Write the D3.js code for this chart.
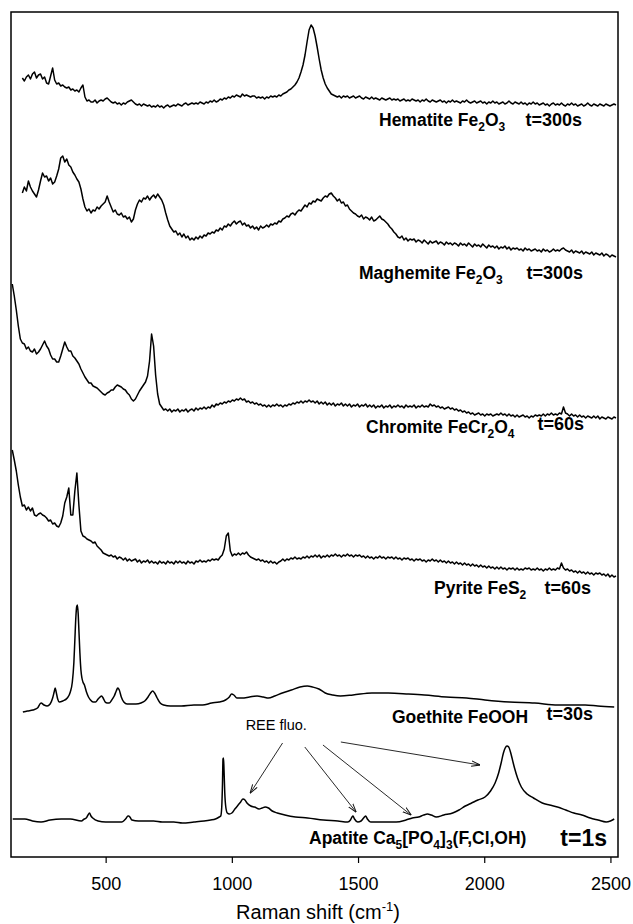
<!DOCTYPE html>
<html>
<head>
<meta charset="utf-8">
<script src="https://cdn.jsdelivr.net/npm/d3@7"></script>
<style>
  body { margin: 0; background: #fff; }
  text { font-family: "Liberation Sans", Arial, sans-serif; }
</style>
</head>
<body>
<svg id="chart" width="633" height="924"></svg>
<script>
// Raman shift axis (cm-1)
const xDomain = [125, 2530];
const tickValues = [500, 1000, 1500, 2000, 2500];

// Sampling grid of the long-exposure spectra: 130 to 2522 cm-1, every 8 cm-1 (300 channels)
const shiftGrid = d3.range(130, 2523, 8);

// Intensities (a.u., relative to each trace's own baseline) on shiftGrid; null = not recorded
const hematite = [
  null,null,null,null,null,27,24,28,30,26,
  31,33,27,30,31,26,28,22,21,29,
  37,25,21,22,19,20,18,17,18,15,
  16,14,15,13,17,20,8,4,5,3,
  3,5,2,4,5,4,6,7,5,3,
  2,3,1,2,0,2,1,3,4,5,
  3,1,0,1,-1,1,0,-1,0,-2,
  -1,-2,0,-2,-1,-3,-1,0,-2,-1,
  0,-1,1,0,-1,1,2,0,1,2,
  1,2,1,3,2,1,3,2,4,3,
  5,3,4,6,5,7,6,8,7,9,
  8,10,9,8,11,9,10,9,8,9,
  9,7,8,7,8,6,8,7,9,8,
  9,8,10,9,11,12,13,15,16,18,
  20,23,27,33,40,50,63,75,80,77,
  69,58,46,35,27,21,17,14,11,10,
  9,8,9,7,9,8,9,7,8,9,
  7,8,9,7,6,8,7,6,8,6,
  7,6,5,7,6,5,6,7,5,6,
  5,6,4,5,6,4,5,4,6,5,
  4,5,3,5,4,6,4,3,5,4,
  3,4,5,3,4,2,4,3,5,3,
  4,3,2,4,3,5,3,2,3,4,
  2,3,4,2,3,1,3,2,4,2,
  3,1,2,3,1,2,4,2,1,3,
  2,1,3,1,2,0,2,1,3,1,
  2,0,1,2,0,1,-1,1,2,0,
  1,0,2,0,-1,1,0,2,0,1,
  -1,0,1,-1,0,2,0,-1,1,0,
  -1,1,0,-1,1,0,-1,0,1,0];

const maghemite = [
  null,null,null,null,null,64,70,66,76,70,
  66,63,60,67,76,84,80,81,76,79,
  73,75,81,88,99,101,95,98,92,90,
  85,82,78,75,68,58,50,46,48,44,
  47,46,50,48,51,53,55,61,55,50,
  45,47,43,42,44,40,41,38,40,35,
  38,47,53,57,55,59,58,61,57,60,
  62,59,63,60,57,52,44,37,31,28,
  25,26,22,24,20,23,19,21,17,19,
  17,20,18,21,19,22,21,24,23,25,
  24,27,26,29,27,31,30,33,31,34,
  36,33,35,36,32,34,31,32,29,31,
  28,30,27,31,29,30,32,30,33,32,
  34,33,36,35,38,39,41,40,43,44,
  42,45,47,46,49,52,50,54,53,56,
  55,58,57,56,59,61,60,63,64,61,
  59,56,58,54,55,51,52,48,46,44,
  43,41,40,42,38,40,39,37,40,36,
  37,39,41,38,37,35,33,30,28,25,
  23,20,19,21,17,19,16,18,17,18,
  15,17,16,14,17,15,13,16,14,15,
  16,13,15,14,12,15,13,14,12,14,
  13,11,14,12,13,11,14,12,10,13,
  11,12,10,13,11,9,12,10,11,9,
  11,8,10,9,11,8,10,7,9,8,
  9,7,8,6,9,7,8,6,7,8,
  6,7,5,8,6,7,5,6,8,6,
  7,6,8,9,7,6,5,7,4,6,
  5,4,6,3,5,4,3,5,2,4,
  3,2,4,1,3,2,0,2,1,0];

const chromite = [
  134,122,108,92,79,75,74,69,71,67,
  66,69,64,66,69,73,77,72,69,63,
  59,59,56,56,62,69,76,71,67,67,
  62,60,57,54,49,45,41,38,35,35,
  32,31,30,28,26,24,23,25,26,28,
  28,31,33,32,31,29,28,25,23,19,
  17,19,23,27,30,33,36,42,57,84,
  72,43,24,14,11,8,9,7,9,6,
  8,7,9,6,8,7,9,6,8,9,
  7,10,8,10,9,11,9,11,10,13,
  11,14,13,15,14,16,15,17,16,18,
  17,19,18,20,18,19,16,17,15,16,
  14,15,13,14,12,13,11,13,11,13,
  12,14,12,13,11,13,12,14,13,15,
  14,16,15,17,15,17,16,18,16,17,
  15,17,14,16,14,16,13,15,13,15,
  12,14,13,15,12,14,12,14,11,13,
  12,14,11,13,12,14,11,13,11,13,
  10,12,11,13,10,12,11,13,10,12,
  11,13,11,12,10,13,11,12,11,13,
  10,12,11,13,11,12,11,14,12,13,
  11,12,10,11,9,10,11,9,10,8,
  9,7,8,6,7,5,6,4,5,3,
  4,5,3,4,2,4,3,4,2,3,
  4,3,5,3,4,2,4,2,3,1,
  3,1,2,3,1,2,0,2,1,3,
  2,3,2,4,2,4,3,5,3,4,
  3,5,4,11,5,4,2,4,2,3,
  1,3,1,2,0,2,1,0,2,0,
  2,-1,1,0,-1,1,0,-1,1,0];

const pyrite = [
  127,117,106,92,80,71,72,67,70,66,
  69,62,61,63,64,62,61,59,56,57,
  53,54,51,50,54,61,74,80,89,62,
  62,86,104,72,46,41,40,38,37,36,
  34,35,31,29,27,24,23,22,21,22,
  20,21,18,20,19,17,19,16,18,16,
  17,18,15,17,14,16,15,17,14,16,
  14,15,13,16,14,15,13,16,14,15,
  13,16,14,16,14,15,13,16,14,15,
  13,16,15,17,15,16,15,17,16,18,
  17,18,17,20,22,28,41,44,26,21,
  23,22,24,22,24,23,25,22,20,19,
  18,17,18,16,17,15,16,14,16,14,
  15,13,15,16,18,16,18,17,19,18,
  20,18,19,18,20,19,21,19,21,20,
  22,20,22,19,21,20,22,20,22,21,
  23,21,22,20,22,21,23,21,22,20,
  22,21,22,20,21,19,21,19,20,18,
  20,19,21,19,20,18,20,19,20,18,
  20,18,19,17,19,18,19,17,18,16,
  18,17,18,16,17,15,17,16,18,16,
  17,15,17,15,16,14,16,14,15,13,
  15,13,14,12,14,12,13,11,13,11,
  12,10,12,10,11,9,11,9,10,8,
  10,8,10,8,9,7,9,8,9,7,
  9,7,8,7,9,8,9,7,8,7,
  9,7,8,6,8,7,9,7,8,7,
  9,8,14,9,7,8,6,7,5,6,
  4,6,4,5,3,5,3,4,2,4,
  3,4,2,3,1,3,0,2,0,1];

// Short-exposure spectra: [Raman shift (cm-1), intensity (a.u., relative to baseline)]
const goethite = [[172,-5],[190,-4],[212,-3],[230,-1],[244,4],[256,2],[268,1],[280,3],[290,9],[296,15],[300,19],[304,15],[310,8],[316,5],[330,6],[348,9],[360,15],[368,25],[374,44],[378,67],[382,90],[385,100],[388,102],[391,94],[394,77],[398,54],[402,37],[406,29],[410,25],[416,22],[424,15],[432,10],[440,7],[450,5],[460,5],[470,8],[478,10],[484,11],[490,9],[498,5],[506,4],[514,4],[524,7],[534,11],[542,16],[548,19],[554,17],[562,10],[572,5],[585,3],[600,3],[620,3],[640,4],[655,6],[668,10],[678,14],[686,16],[694,14],[704,9],[716,4],[730,2],[756,1],[800,1],[850,2],[884,2],[920,4],[950,5],[975,7],[990,10],[999,13],[1008,12],[1020,9],[1040,9],[1070,10],[1100,11],[1125,10],[1145,9],[1170,11],[1200,14],[1236,17],[1270,20],[1299,21],[1320,20],[1345,18],[1370,14],[1400,12],[1430,11],[1480,12],[1555,14],[1620,14],[1700,13],[1763,12],[1850,10],[1930,9],[2003,7],[2100,5],[2200,4],[2291,2],[2360,2],[2400,2],[2450,1],[2515,0]];

const apatite = [[132,0],[160,0],[180,0],[210,-2],[244,-3],[280,-1],[324,0],[360,0],[404,-2],[415,0],[423,1],[430,4],[436,6],[442,3],[449,1],[470,-2],[500,-3],[540,-3],[564,-3],[575,-1],[582,1],[588,3],[591,3],[596,2],[604,-1],[630,-2],[660,-2],[690,-2],[724,-3],[770,-3],[804,-4],[850,-3],[890,-2],[916,-1],[935,0],[950,2],[956,3],[960,12],[963,36],[965,60],[967,61],[969,49],[972,26],[976,12],[982,6],[990,5],[1000,6],[1012,10],[1025,14],[1035,17],[1044,20],[1052,19],[1060,16],[1075,13],[1090,12],[1108,10],[1120,11],[1132,12],[1145,11],[1160,8],[1180,6],[1210,4],[1252,2],[1300,1],[1363,-1],[1420,-2],[1459,-3],[1470,-1],[1476,2],[1480,3],[1486,0],[1499,-3],[1512,-2],[1522,1],[1530,3],[1537,0],[1550,-3],[1600,-3],[1651,-3],[1690,-1],[1715,1],[1740,2],[1760,4],[1775,5],[1790,4],[1810,2],[1840,4],[1875,6],[1900,9],[1925,13],[1950,16],[1975,19],[2003,22],[2025,28],[2043,36],[2057,46],[2067,56],[2076,66],[2083,71],[2090,73],[2097,72],[2104,67],[2112,59],[2120,51],[2132,41],[2147,32],[2170,25],[2195,21],[2230,16],[2259,14],[2290,12],[2323,9],[2355,6],[2387,4],[2420,1],[2451,-1],[2483,-3],[2500,-2],[2515,0]];

// Trace order (top to bottom), vertical stacking offsets and captions
const gridded = [hematite, maghemite, chromite, pyrite].map(v => v.map((d, i) => [shiftGrid[i], d]));
const spectra = [...gridded, goethite, apatite];
const offsets = [752, 600, 439, 280, 150, 38];
const minerals = [
  ["Hematite Fe", "_2", "O", "_3"],
  ["Maghemite Fe", "_2", "O", "_3"],
  ["Chromite FeCr", "_2", "O", "_4"],
  ["Pyrite FeS", "_2"],
  ["Goethite FeOOH"],
  ["Apatite Ca", "_5", "[PO", "_4", "]", "_3", "(F,Cl,OH)"]
];
const exposures = ["t=300s", "t=300s", "t=60s", "t=60s", "t=30s", "t=1s"];

// Rare-earth fluorescence bands on the apatite trace: [from cm-1, from a.u., to cm-1, to a.u.]
const reeText = "REE fluo.";
const reeArrows = [[1201, 76, 1073, 26], [1289, 72, 1492, 7], [1361, 74, 1710, 4], [1432, 77, 1983, 54]];

const axisTitle = "Raman shift (cm";

// ---- layout ----
const svg = d3.select("#chart");
const plot = { left: 11, right: 618, top: 12, bottom: 857 };

const x = d3.scaleLinear().domain(xDomain).range([plot.left, plot.right]);
const y = d3.scaleLinear().domain([0, plot.bottom - plot.top]).range([plot.bottom, plot.top]);

const defs = svg.append("defs");
defs.append("clipPath").attr("id", "plotClip")
  .append("rect").attr("x", plot.left).attr("y", plot.top)
  .attr("width", plot.right - plot.left).attr("height", plot.bottom - plot.top);

defs.append("marker")
  .attr("id", "arrowHead").attr("viewBox", "0 0 10 10")
  .attr("refX", 9.5).attr("refY", 5)
  .attr("markerWidth", 9).attr("markerHeight", 9)
  .attr("markerUnits", "userSpaceOnUse")
  .attr("orient", "auto")
  .append("path").attr("d", "M0,2 L10,5 L0,8")
  .attr("fill", "none").attr("stroke", "#111").attr("stroke-width", 1.1);

// traces
const traces = svg.append("g").attr("clip-path", "url(#plotClip)");
spectra.forEach((s, i) => {
  const smooth = i >= 4;
  const line = d3.line()
    .defined(d => d[1] != null)
    .x(d => x(d[0]))
    .y(d => y(d[1] + offsets[i]))
    .curve(smooth ? d3.curveMonotoneX : d3.curveLinear);
  traces.append("path")
    .datum(s)
    .attr("d", line)
    .attr("fill", "none")
    .attr("stroke", "#000")
    .attr("stroke-width", 1.5)
    .attr("stroke-linejoin", "round");
});

// frame
svg.append("rect")
  .attr("x", plot.left).attr("y", plot.top)
  .attr("width", plot.right - plot.left).attr("height", plot.bottom - plot.top)
  .attr("fill", "none").attr("stroke", "#000").attr("stroke-width", 1.5);

// bottom axis
const xAxis = d3.axisBottom(x).tickValues(tickValues).tickSize(6).tickPadding(14).tickFormat(d3.format("d"));
const gx = svg.append("g").attr("transform", `translate(0,${plot.bottom})`).call(xAxis);
gx.select(".domain").remove();
gx.selectAll(".tick line").attr("stroke", "#000").attr("stroke-width", 1.2);
gx.selectAll(".tick text")
  .attr("font-family", "Liberation Sans, Arial, sans-serif")
  .attr("font-size", 18).attr("fill", "#000");

// axis title with superscript
const title = svg.append("text")
  .attr("x", 318).attr("y", 919)
  .attr("text-anchor", "middle")
  .attr("font-size", 20).attr("fill", "#000");
title.append("tspan").text(axisTitle);
title.append("tspan").attr("dy", -8).attr("font-size", 13).text("-1");
title.append("tspan").attr("dy", 8).text(")");

// sample captions (mineral name left-aligned, exposure time right-aligned)
const capPos = [[379, 126], [359, 279], [366, 433], [434, 594], [392, 723], [309, 844]];
const expPos = [[582, 126], [583, 279], [584, 430], [591, 594], [593, 720], [607, 846]];

minerals.forEach((parts, i) => {
  const t = svg.append("text")
    .attr("x", capPos[i][0]).attr("y", capPos[i][1])
    .attr("font-size", 17.5).attr("font-weight", "bold").attr("fill", "#000");
  let lowered = false;
  parts.forEach(p => {
    const isSub = p.startsWith("_");
    const ts = t.append("tspan").text(isSub ? p.slice(1) : p);
    if (isSub) {
      ts.attr("font-size", 12);
      if (!lowered) { ts.attr("dy", 5); lowered = true; }
    } else if (lowered) {
      ts.attr("dy", -5); lowered = false;
    }
  });
  svg.append("text")
    .attr("x", expPos[i][0]).attr("y", expPos[i][1])
    .attr("text-anchor", "end")
    .attr("font-size", i === 5 ? 23 : 18).attr("font-weight", "bold").attr("fill", "#000")
    .text(exposures[i]);
});

// REE fluorescence annotation on the apatite trace
const apOff = offsets[5];
svg.append("text")
  .attr("x", x(1176)).attr("y", y(94 + apOff) + 5)
  .attr("text-anchor", "middle")
  .attr("font-size", 14.5).attr("fill", "#000")
  .text(reeText);

svg.append("g").selectAll("line").data(reeArrows).join("line")
  .attr("x1", d => x(d[0])).attr("y1", d => y(d[1] + apOff))
  .attr("x2", d => x(d[2])).attr("y2", d => y(d[3] + apOff))
  .attr("stroke", "#111").attr("stroke-width", 0.9)
  .attr("marker-end", "url(#arrowHead)");
</script>
</body>
</html>
